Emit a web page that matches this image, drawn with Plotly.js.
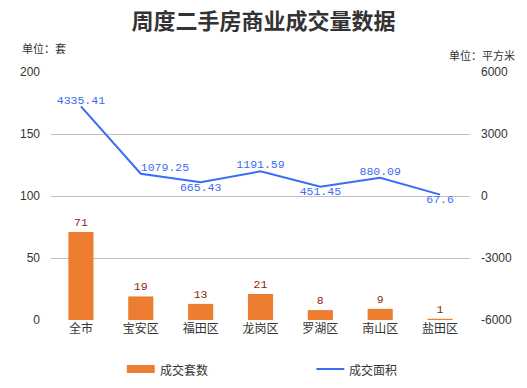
<!DOCTYPE html>
<html><head><meta charset="utf-8">
<script src="https://cdn.plot.ly/plotly-3.0.1.min.js"></script>
<style>html,body{margin:0;padding:0;background:#fff}#c{width:527px;height:388px}</style>
</head><body><div id="c"></div>
<script>
const categories = ['全市','宝安区','福田区','龙岗区','罗湖区','南山区','盐田区'];
const units = [71, 19, 13, 21, 8, 9, 1];
const area = [4335.41, 1079.25, 665.43, 1191.59, 451.45, 880.09, 67.6];
const areaLabelPos = ['top center','top right','bottom center','top center','bottom center','top center','bottom center'];
const leftTicks = [0, 50, 100, 150, 200];
const rightTicks = [-6000, -3000, 0, 3000, 6000];
const seriesNames = ['成交套数', '成交面积'];

const mono = 'Liberation Mono, DejaVu Sans Mono, monospace';
const cjk = 'Noto Sans CJK SC, sans-serif';
const barColor = '#ed7d31', lineColor = '#3a6cf4';

const traces = [
  {type:'bar', name:seriesNames[0], x:categories, y:units, width:0.42,
   marker:{color:barColor}, text:units.map(String), textposition:'outside',
   textfont:{family:mono, size:11.5, color:'#8b2a0a'}, cliponaxis:false, hoverinfo:'none'},
  {type:'scatter', mode:'lines+text', name:seriesNames[1], x:categories, y:area, yaxis:'y2',
   line:{color:lineColor, width:2}, text:area.map(String), textposition:areaLabelPos,
   textfont:{family:mono, size:11.5, color:lineColor}, cliponaxis:false, hoverinfo:'none'}
];

const layout = {
  width:527, height:388,
  margin:{l:51, r:57, t:72, b:68},
  paper_bgcolor:'#fff', plot_bgcolor:'#fff',
  title:{text:'<b>周度二手房商业成交量数据</b>', x:0.5, xanchor:'center', y:0.945, yanchor:'middle',
         font:{family:cjk, size:22, color:'#333'}},
  showlegend:false,
  bargap:0.58,
  xaxis:{type:'category', tickfont:{family:cjk, size:12, color:'#333'}, showgrid:false,
         showline:false, ticks:'', zeroline:false},
  yaxis:{range:[0,200], tickvals:leftTicks, ticktext:leftTicks.map(String), gridcolor:'#c0c0c0', gridwidth:1,
         zeroline:false, tickfont:{family:'Liberation Sans, Arial, sans-serif', size:12, color:'#333'},
         ticklabelstandoff:10},
  yaxis2:{range:[-6000,6000], tickvals:rightTicks, ticktext:rightTicks.map(String), overlaying:'y', side:'right',
          showgrid:false, zeroline:false, tickfont:{family:'Liberation Sans, Arial, sans-serif', size:12, color:'#333'},
          ticklabelstandoff:10},
  shapes:[
    {type:'rect', xref:'paper', yref:'paper', x0:0.181, x1:0.2476, y0:-0.1815, y1:-0.2137,
     fillcolor:barColor, line:{width:0}},
    {type:'line', xref:'paper', yref:'paper', x0:0.6333, x1:0.7, y0:-0.1976, y1:-0.1976,
     line:{color:lineColor, width:2}}
  ],
  annotations:[
    {text:'单位：套', xref:'paper', yref:'paper', x:-0.074, xanchor:'left', y:1.097, yanchor:'middle',
     showarrow:false, font:{family:cjk, size:11, color:'#333'}},
    {text:'单位：平方米', xref:'paper', yref:'paper', x:1.112, xanchor:'right', y:1.069, yanchor:'middle',
     showarrow:false, font:{family:cjk, size:11, color:'#333'}},
    {text:seriesNames[0], xref:'paper', yref:'paper', x:0.2548, xanchor:'left', y:-0.1976, yanchor:'middle',
     showarrow:false, font:{family:cjk, size:12, color:'#333'}},
    {text:seriesNames[1], xref:'paper', yref:'paper', x:0.7071, xanchor:'left', y:-0.1976, yanchor:'middle',
     showarrow:false, font:{family:cjk, size:12, color:'#333'}}
  ]
};
Plotly.newPlot('c', traces, layout, {displayModeBar:false, staticPlot:true});
</script></body></html>
